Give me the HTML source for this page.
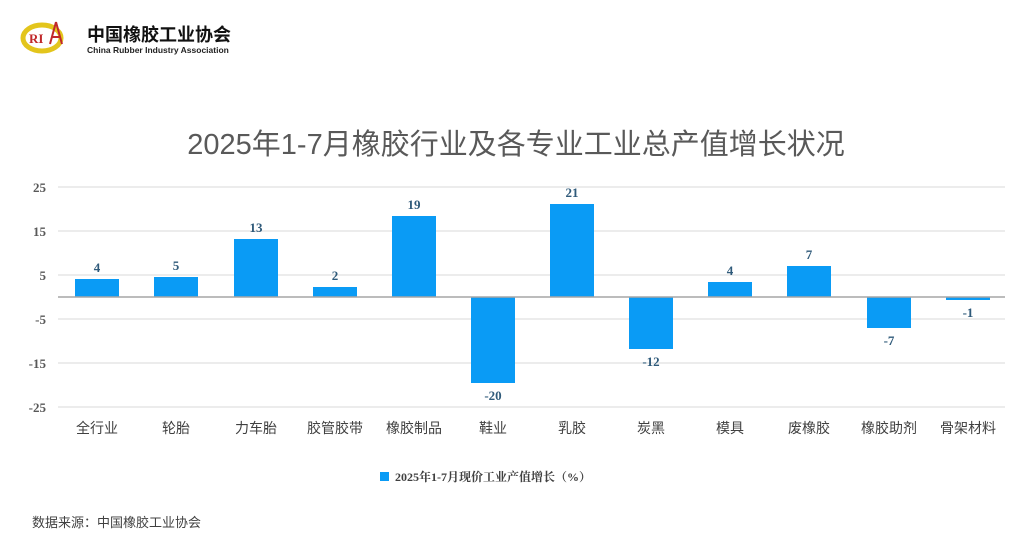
<!DOCTYPE html>
<html><head><meta charset="utf-8"><style>
body{margin:0;background:#fff;width:1024px;height:538px;overflow:hidden;font-family:"Liberation Sans","Noto Sans CJK SC",sans-serif}
</style></head><body>
<svg width="1024" height="538" xmlns="http://www.w3.org/2000/svg">
<ellipse cx="42" cy="38" rx="19" ry="13" fill="none" stroke="#e3c51c" stroke-width="5"/>
<text x="29" y="43" font-family="Liberation Serif,serif" font-weight="bold" font-size="13" fill="#c0282a">RI</text>
<path d="M56 22 L50 44 M56 22 L62 44 M52 37 L60 37" stroke="#c0282a" stroke-width="2" fill="none"/>
<text x="87" y="41" font-family="Liberation Sans,Noto Sans CJK SC,sans-serif" font-weight="bold" font-size="18" fill="#111">中国橡胶工业协会</text>
<text x="87" y="53" font-family="Liberation Sans,sans-serif" font-weight="bold" font-size="8.5" fill="#222">China Rubber Industry Association</text>
<text x="516" y="154" text-anchor="middle" font-family="Liberation Sans,Noto Sans CJK SC,sans-serif" font-size="29" fill="#595959">2025年1-7月橡胶行业及各专业工业总产值增长状况</text>
<g stroke="#d9d9d9" stroke-width="1">
<line x1="58" x2="1005" y1="187" y2="187"/><line x1="58" x2="1005" y1="231" y2="231"/>
<line x1="58" x2="1005" y1="275" y2="275"/><line x1="58" x2="1005" y1="319" y2="319"/>
<line x1="58" x2="1005" y1="363" y2="363"/><line x1="58" x2="1005" y1="407" y2="407"/>
</g>
<g font-family="Liberation Serif,serif" font-weight="bold" font-size="13" fill="#595959" text-anchor="end">
<text x="46" y="192">25</text><text x="46" y="236">15</text><text x="46" y="280">5</text>
<text x="46" y="324">-5</text><text x="46" y="368">-15</text><text x="46" y="412">-25</text>
</g>
<g fill="#0a9bf5">
<rect x="75" y="279" width="44" height="18"/>
<rect x="154" y="277" width="44" height="20"/>
<rect x="234" y="239" width="44" height="58"/>
<rect x="313" y="287" width="44" height="10"/>
<rect x="392" y="216" width="44" height="81"/>
<rect x="471" y="297" width="44" height="86"/>
<rect x="550" y="204" width="44" height="93"/>
<rect x="629" y="297" width="44" height="52"/>
<rect x="708" y="282" width="44" height="15"/>
<rect x="787" y="266" width="44" height="31"/>
<rect x="867" y="297" width="44" height="31"/>
<rect x="946" y="297" width="44" height="3"/>
</g>
<line x1="58" x2="1005" y1="297" y2="297" stroke="#a6a6a6" stroke-width="1.5"/>
<g font-family="Liberation Serif,serif" font-weight="bold" font-size="13" fill="#2f5a7a" text-anchor="middle">
<text x="97" y="272">4</text><text x="176" y="270">5</text><text x="256" y="232">13</text>
<text x="335" y="280">2</text><text x="414" y="209">19</text><text x="493" y="400">-20</text>
<text x="572" y="197">21</text><text x="651" y="366">-12</text><text x="730" y="275">4</text>
<text x="809" y="259">7</text><text x="889" y="345">-7</text><text x="968" y="317">-1</text>
</g>
<g font-family="Liberation Sans,Noto Sans CJK SC,sans-serif" font-size="14" fill="#404040" text-anchor="middle">
<text x="97" y="433">全行业</text><text x="176" y="433">轮胎</text><text x="256" y="433">力车胎</text>
<text x="335" y="433">胶管胶带</text><text x="414" y="433">橡胶制品</text><text x="493" y="433">鞋业</text>
<text x="572" y="433">乳胶</text><text x="651" y="433">炭黑</text><text x="730" y="433">模具</text>
<text x="809" y="433">废橡胶</text><text x="889" y="433">橡胶助剂</text><text x="968" y="433">骨架材料</text>
</g>
<rect x="380" y="472" width="9" height="9" fill="#0a9bf5"/>
<text x="395" y="481" font-family="Liberation Serif,Noto Serif CJK SC,serif" font-weight="bold" font-size="12" fill="#404040">2025年1-7月现价工业产值增长（%）</text>
<text x="32" y="527" font-family="Liberation Sans,Noto Sans CJK SC,sans-serif" font-size="13" fill="#404040">数据来源：中国橡胶工业协会</text>
</svg>
</body></html>
